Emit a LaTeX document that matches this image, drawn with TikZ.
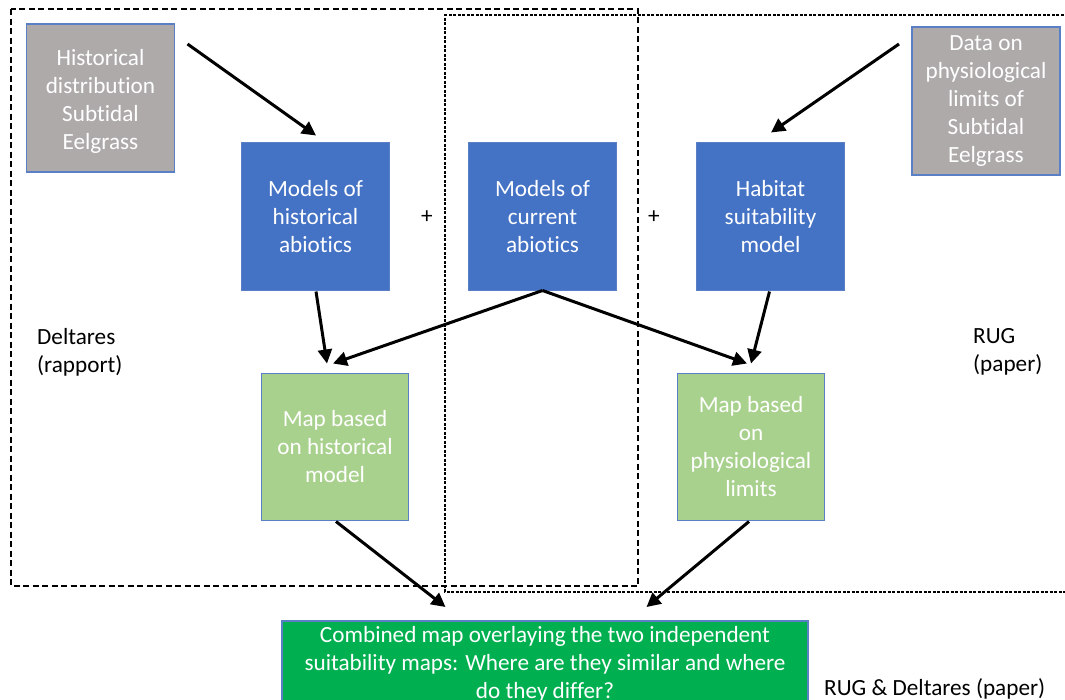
\documentclass[tikz,border=0pt]{standalone}
\usepackage{fontspec}
\setmainfont[Ligatures=NoCommon]{Carlito}
\usetikzlibrary{arrows.meta,calc}
\definecolor{grayfill}{HTML}{AEAAAA}
\definecolor{bluefill}{HTML}{4472C4}
\definecolor{blueline}{HTML}{5B7FC4}
\definecolor{greenfill}{HTML}{A9D18E}
\definecolor{darkgreen}{HTML}{00B050}
\tikzset{
  txt/.style={font=\fontsize{23.2}{28}\selectfont, align=center},
  box/.style={txt, draw=blueline, line width=1.2pt, text=white, inner sep=0pt, outer sep=0pt, anchor=center},
  graybox/.style={box, fill=grayfill, minimum width=148pt, minimum height=148pt},
  bluebox/.style={box, fill=bluefill, minimum width=148pt, minimum height=148pt},
  greenbox/.style={box, fill=greenfill, minimum width=147pt, minimum height=147pt},
  combbox/.style={box, fill=darkgreen, minimum width=526pt, minimum height=86pt},
  lab/.style={txt, align=left, inner sep=0pt, anchor=north west},
  arr/.style={line width=3pt, -{Triangle[length=14pt,width=14pt]}},
  deltaredash/.style={line width=1.2pt, dash pattern=on 6pt off 3.5pt},
  rugdash/.style={line width=1.2pt, dash pattern=on 3pt off 1.5pt},
}
\begin{document}
\begin{tikzpicture}[x=1pt,y=-1pt]
\useasboundingbox (0,0) rectangle (1065,699);
\clip (0,0) rectangle (1065,699);
% dashed regions
\draw[deltaredash] (11,9) rectangle (638,586);
\draw[rugdash] (1068,15) -- (445,15) -- (445,592) -- (1068,592);
% boxes
\node[graybox] (g1) at (100.5,98) {\raisebox{0pt}[\dimexpr\height+7pt][\depth]{\begin{tabular}{@{}c@{}}Historical\\distribution\\Subtidal\\Eelgrass\end{tabular}}};
\node[graybox] (g2) at (986,101) {Data on\\physiological\\limits of\\Subtidal\\Eelgrass};
\node[bluebox] (b1) at (315.5,216.5) {Models of\\historical\\abiotics};
\node[bluebox] (b2) at (542.5,216.5) {Models of\\current\\abiotics};
\node[bluebox] (b3) at (770.5,216.5) {Habitat\\suitability\\model};
\node[greenbox] (r1) at (335,447) {Map based\\on historical\\model};
\node[greenbox] (r2) at (751,447) {Map based\\on\\physiological\\limits};
\node[combbox] (c) at (545,664) {Combined map overlaying the two independent\\suitability maps: Where are they similar and where\\do they differ?};
% plus signs
\node[txt] (p1) at (427,217) {+};
\node[txt] (p2) at (654,217) {+};
% labels
\node[lab] (ld) at (37,328) {Deltares\\(rapport)};
\node[lab] (lr) at (973,328) {RUG\\(paper)};
\node[lab] (lb) at (824,678) {RUG \& Deltares (paper)};
% arrows
\draw[arr] ($(g1.north east)+(13,20)$) -- ($(b1.north)+(0.5,-7)$);
\draw[arr] ($(g2.north west)+(-13,17)$) -- ($(b3.north)+(0.5,-10)$);
\draw[arr] ($(b1.south)+(0.5,1)$) -- ($(r1.north)+(-8,-10)$);
\draw[arr] (b2.south) -- ($(r1.north)+(-2,-10)$);
\draw[arr] (b2.south) -- ($(r2.north)+(-4,-10)$);
\draw[arr] ($(b3.south)+(-1,1)$) -- ($(r2.north)+(0,-10)$);
\draw[arr] ($(r1.south)+(1,1)$) -- ($(c.north)+(-99.5,-14)$);
\draw[arr] ($(r2.south)+(-2,1)$) -- ($(c.north)+(101.5,-14)$);
\end{tikzpicture}
\end{document}
